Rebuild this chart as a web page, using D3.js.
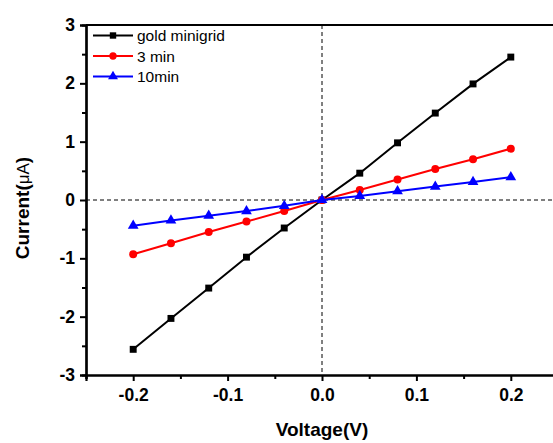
<!DOCTYPE html>
<html>
<head>
<meta charset="utf-8">
<script src="https://cdn.jsdelivr.net/npm/d3@7"></script>
<style>
  body { margin: 0; background: #fff; }
  svg { display: block; }
  text { font-family: Arial, "Liberation Sans", sans-serif; }
</style>
</head>
<body>
<div id="chart"></div>
<script>
// voltage sweep (V)
const voltage = [-0.2, -0.16, -0.12, -0.08, -0.04, 0, 0.04, 0.08, 0.12, 0.16, 0.2];
// current readings (uA)
const goldMinigrid = [-2.56, -2.03, -1.51, -0.98, -0.48, 0, 0.46, 0.98, 1.49, 1.99, 2.45];
const min3 = [-0.93, -0.74, -0.55, -0.37, -0.19, 0, 0.17, 0.35, 0.53, 0.70, 0.88];
const min10 = [-0.44, -0.35, -0.27, -0.19, -0.10, 0, 0.07, 0.15, 0.23, 0.31, 0.39];
const seriesNames = ["gold minigrid", "3 min", "10min"];
const xTicks = [-0.2, -0.1, 0.0, 0.1, 0.2];
const yTicks = [-3, -2, -1, 0, 1, 2, 3];

var margin = {top: 25, right: -5, bottom: 68, left: 86},
  W = 553, H = 443,
  width = W - margin.left - margin.right,
  height = H - margin.top - margin.bottom;

var svg = d3.select("#chart")
  .append("svg")
  .attr("width", W)
  .attr("height", H)
  .append("g")
  .attr("transform", "translate(" + margin.left + "," + margin.top + ")");

const x = d3.scaleLinear().domain([-0.25, 0.25]).range([0, width]);
const y = d3.scaleLinear().domain([-3, 3]).range([height, 0]);

// plain hyphen for negatives, like the original
const fmtX = d => d3.format(".1f")(d).replace("\u2212", "-");
const fmtY = d => d3.format("d")(d).replace("\u2212", "-");

// zero reference lines
svg.append("line")
  .attr("x1", 0).attr("x2", width)
  .attr("y1", y(0)).attr("y2", y(0))
  .attr("stroke", "#000").attr("stroke-width", 1).attr("stroke-dasharray", "4,3");
svg.append("line")
  .attr("x1", x(0)).attr("x2", x(0))
  .attr("y1", 0).attr("y2", height)
  .attr("stroke", "#000").attr("stroke-width", 1).attr("stroke-dasharray", "4,3");

// axes: major + minor ticks
const xAxis = svg.append("g")
  .attr("transform", "translate(0," + height + ")")
  .call(d3.axisBottom(x).tickValues(xTicks).tickSize(6).tickFormat(fmtX));
svg.append("g")
  .attr("transform", "translate(0," + height + ")")
  .call(d3.axisBottom(x).tickValues([-0.25, -0.15, -0.05, 0.05, 0.15, 0.25]).tickSize(4).tickFormat(""));
const yAxis = svg.append("g")
  .call(d3.axisLeft(y).tickValues(yTicks).tickSize(6).tickFormat(fmtY));
svg.append("g")
  .call(d3.axisLeft(y).tickValues([-2.5, -1.5, -0.5, 0.5, 1.5, 2.5]).tickSize(4).tickFormat(""));

svg.selectAll(".domain").attr("stroke-width", 2.2).attr("stroke", "#000");
svg.selectAll(".tick line").attr("stroke-width", 2).attr("stroke", "#000");
svg.selectAll(".tick text")
  .attr("font-size", 17.5).attr("font-weight", "bold").attr("fill", "#000")
  .attr("font-family", "Arial, 'Liberation Sans', sans-serif");
xAxis.selectAll(".tick text").attr("y", 13.5);
yAxis.selectAll(".tick text").attr("x", -11);

// top and right frame
svg.append("line").attr("x1", 0).attr("x2", width).attr("y1", 0).attr("y2", 0)
  .attr("stroke", "#000").attr("stroke-width", 2.2);
svg.append("line").attr("x1", width).attr("x2", width).attr("y1", 0).attr("y2", height)
  .attr("stroke", "#000").attr("stroke-width", 2.2);

const series = [
  {name: seriesNames[0], values: goldMinigrid, color: "#000000", symbol: d3.symbolSquare, size: 48},
  {name: seriesNames[1], values: min3, color: "#ff0000", symbol: d3.symbolCircle, size: 50},
  {name: seriesNames[2], values: min10, color: "#0000ff", symbol: d3.symbolTriangle, size: 50}
];

const line = d3.line()
  .x((d, i) => x(voltage[i]))
  .y(d => y(d));

series.forEach(function(s) {
  svg.append("path")
    .datum(s.values)
    .attr("fill", "none")
    .attr("stroke", s.color)
    .attr("stroke-width", 2)
    .attr("d", line);
  svg.selectAll(null)
    .data(s.values)
    .enter()
    .append("path")
    .attr("transform", (d, i) => "translate(" + x(voltage[i]) + "," + y(d) + ")")
    .attr("d", d3.symbol().type(s.symbol).size(s.size))
    .attr("fill", s.color);
});

// legend
const legend = svg.append("g").attr("transform", "translate(7,10.5)");
series.forEach(function(s, i) {
  const g = legend.append("g").attr("transform", "translate(0," + (i * 20.5) + ")");
  g.append("line").attr("x1", 0).attr("x2", 40).attr("y1", 0).attr("y2", 0)
    .attr("stroke", s.color).attr("stroke-width", 2);
  g.append("path").attr("transform", "translate(20,0)")
    .attr("d", d3.symbol().type(s.symbol).size(s.size * 0.85))
    .attr("fill", s.color);
  g.append("text").attr("x", 44).attr("y", 0).attr("dy", "0.36em")
    .attr("font-size", 15.5).attr("fill", "#000").text(s.name);
});

// axis titles
svg.append("text")
  .attr("x", x(0)).attr("y", height + 61)
  .attr("text-anchor", "middle")
  .attr("font-size", 19).attr("font-weight", "bold")
  .text("Voltage(V)");

const yt = svg.append("text")
  .attr("transform", "translate(" + (-57) + "," + (y(0) + 8) + ") rotate(-90)")
  .attr("text-anchor", "middle")
  .attr("font-size", 19).attr("font-weight", "bold");
yt.append("tspan").text("Current(");
yt.append("tspan").attr("font-weight", "normal").attr("font-size", 17).text("\u03bcA");
yt.append("tspan").text(")");
</script>
</body>
</html>
